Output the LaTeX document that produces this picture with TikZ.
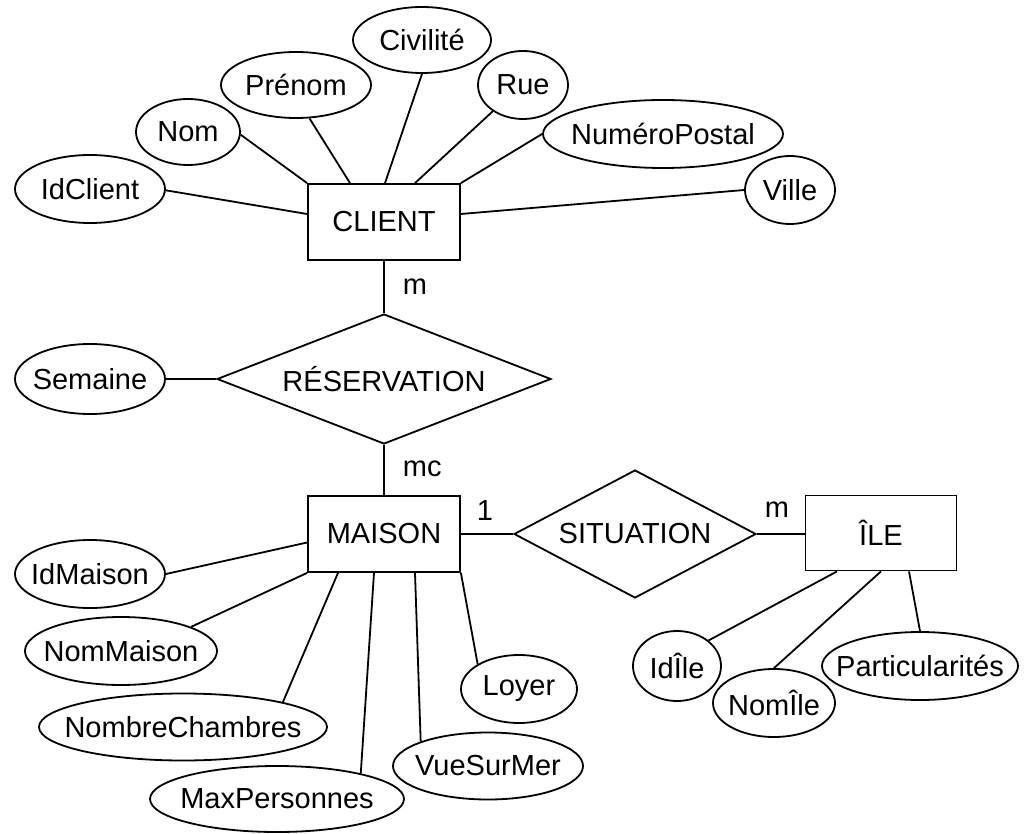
\documentclass[tikz,border=0pt]{standalone}
\usepackage{fontspec}
\setmainfont{Liberation Sans}
\usetikzlibrary{shapes.geometric}
% attribute ellipse: name, centre, width, height, label
\newcommand\erattr[5]{\node[attr, minimum width=#3pt, minimum height=#4pt] (#1) at (#2) {\makebox[0pt]{#5}};}
\begin{document}
\begin{tikzpicture}[x=1pt, y=-1pt, line width=1.8pt,
  font=\fontsize{29}{34}\selectfont,
  entity/.style={draw, rectangle, minimum width=152pt, minimum height=76pt, inner sep=0pt},
  attr/.style={draw, ellipse, inner sep=0pt},
  rel/.style={draw, diamond, inner sep=0pt},
  card/.style={inner sep=0pt}]
\useasboundingbox[fill=white] (0,0) rectangle (1028,834);

% entities
\node[entity] (client) at (384,222) {CLIENT};
\node[entity] (maison) at (384,534) {MAISON};
\node[entity, minimum width=151pt, minimum height=75pt] (ile) at (881,533) {ÎLE};

% relationships
\node[rel, minimum width=334pt, minimum height=130pt] (res) at (384,379) {\makebox[0pt]{RÉSERVATION}};
\node[rel, minimum width=242pt, minimum height=128pt] (sit) at (635,534) {\makebox[0pt]{SITUATION}};

% attributes of CLIENT
\erattr{idclient}{90,189}{150}{68}{IdClient}
\erattr{nom}{188,132}{104}{66}{Nom}
\erattr{prenom}{296,85}{150}{66}{Prénom}
\erattr{civ}{422,40}{138}{66}{Civilité}
\erattr{rue}{523,85}{90}{68}{Rue}
\erattr{numpost}{663,134}{240}{68}{NuméroPostal}
\erattr{ville}{790,190}{90}{68}{Ville}

% attribute of RÉSERVATION
\erattr{semaine}{90,379}{150}{70}{Semaine}

% attributes of MAISON
\erattr{idmaison}{90,574}{150}{68}{IdMaison}
\erattr{nommaison}{121,651}{192}{68}{NomMaison}
\erattr{nbch}{183,727}{288}{67}{NombreChambres}
\erattr{maxp}{277,799}{254}{66}{MaxPersonnes}
\erattr{vue}{488,766}{190}{67}{VueSurMer}
\erattr{loyer}{519,689}{116}{68}{Loyer}

% attributes of ÎLE
\erattr{idile}{677,666}{88}{70}{IdÎle}
\erattr{nomile}{774,703}{122}{68}{NomÎle}
\erattr{partic}{920,666}{196}{68}{Particularités}

% CLIENT links
\draw (idclient.-1) -- ([yshift=8pt]client.west);
\draw (nom.-3) -- (client.north west);
\draw (prenom.-68) -- ([xshift=-34pt]client.north);
\draw (civ.south) -- ([xshift=1pt]client.north);
\draw (rue.-139) -- ([xshift=31pt]client.north);
\draw (numpost.west) -- (client.north east);
\draw (ville.west) -- ([yshift=8pt]client.east);

% relationship links
\draw (client) -- (res);
\draw (semaine.east) -- (res.west);
\draw (res) -- (maison);
\draw (maison) -- (sit);
\draw (sit.east) -- (sit.east -| ile.west);

% MAISON links
\draw (idmaison.east) -- ([yshift=-8.5pt]maison.west);
\draw (nommaison.19) -- (maison.south west);
\draw (nbch.14) -- ([xshift=-46pt]maison.south);
\draw (maxp.17) -- ([xshift=-10pt]maison.south);
\draw (vue.160) -- ([xshift=31pt]maison.south);
\draw (loyer.149) -- (maison.south east);

% ÎLE links
\draw (idile.39) -- ([xshift=-44pt]ile.south);
\draw (nomile.north) -- (ile.south);
\draw (partic.north) -- ([xshift=28pt]ile.south);

% cardinalities
\node[card, anchor=west] (cm1) at (402,287) {m};
\node[card, anchor=west] (cmc) at (402,469) {mc};
\node[card] (c1) at (485,511) {1};
\node[card] (cm2) at (777,510) {m};
\end{tikzpicture}
\end{document}
